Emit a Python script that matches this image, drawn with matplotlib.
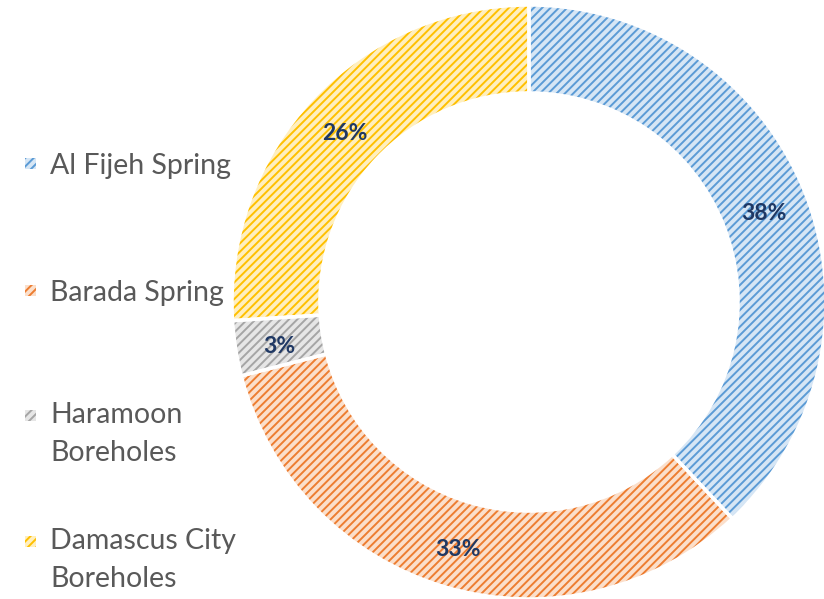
import matplotlib
matplotlib.use("Agg")
import matplotlib.pyplot as plt
from matplotlib.patches import Rectangle
import numpy as np

categories = ["Al Fijeh Spring", "Barada Spring", "Haramoon\nBoreholes", "Damascus City\nBoreholes"]
values = [38, 33, 3, 26]
pct_labels = ["38%", "33%", "3%", "26%"]

main_colors = ["#5B9BD5", "#ED7D31", "#A5A5A5", "#FFC000"]
light_colors = ["#D6E6F5", "#FBDFCB", "#E6E6E6", "#FFEFBF"]

plt.rcParams['hatch.linewidth'] = 1.4
plt.rcParams['font.family'] = ['Lato', 'DejaVu Sans']

W, H = 824, 599
fig = plt.figure(figsize=(W/100, H/100), dpi=100)
cx, cy, R = 529, 302, 297
ax = fig.add_axes([(cx - R)/W, (H - cy - R)/H, 2*R/W, 2*R/H])

width = 0.296
wedges, _ = ax.pie(values, radius=1, startangle=90, counterclock=False,
                   colors=light_colors,
                   wedgeprops=dict(width=width, linewidth=0))
for w, c in zip(wedges, main_colors):
    w.set_hatch('////')
    w.set_edgecolor(c)
    w.set_linewidth(0)

ax.pie(values, radius=1, startangle=90, counterclock=False,
       colors=['none']*4,
       wedgeprops=dict(width=width, linewidth=2.5, edgecolor='white'))

ax.set_xlim(-1, 1); ax.set_ylim(-1, 1)
ax.set_aspect('equal'); ax.axis('off')

total = sum(values)
ang = 90
rmid = 1 - width/2
for v, lab in zip(values, pct_labels):
    span = v/total*360
    mid = np.deg2rad(ang - span/2)
    ax.annotate(lab, (rmid*np.cos(mid), rmid*np.sin(mid)), xytext=(0, -3.5),
                textcoords='offset points', ha='center', va='center',
                fontsize=16.5, fontweight='bold', color='#1F3864')
    ang -= span

# legend
leg_y = [163, 290, 415, 541]
for name, y, mc, lc in zip(categories, leg_y, main_colors, light_colors):
    r = Rectangle((25/W, 1 - (y + 6)/H), 11/W, 11/H, transform=fig.transFigure,
                  facecolor=lc, edgecolor=mc, hatch='////', linewidth=0)
    fig.add_artist(r)
    if '\n' in name:
        fig.text(50/W, 1 - (y - 13)/H, name, ha='left', va='top', fontsize=20.5,
                 color='#595959', linespacing=1.55)
    else:
        fig.text(50/W, 1 - (y + 3)/H, name, ha='left', va='center', fontsize=20.5,
                 color='#595959')

fig.savefig("out.png", dpi=100)
